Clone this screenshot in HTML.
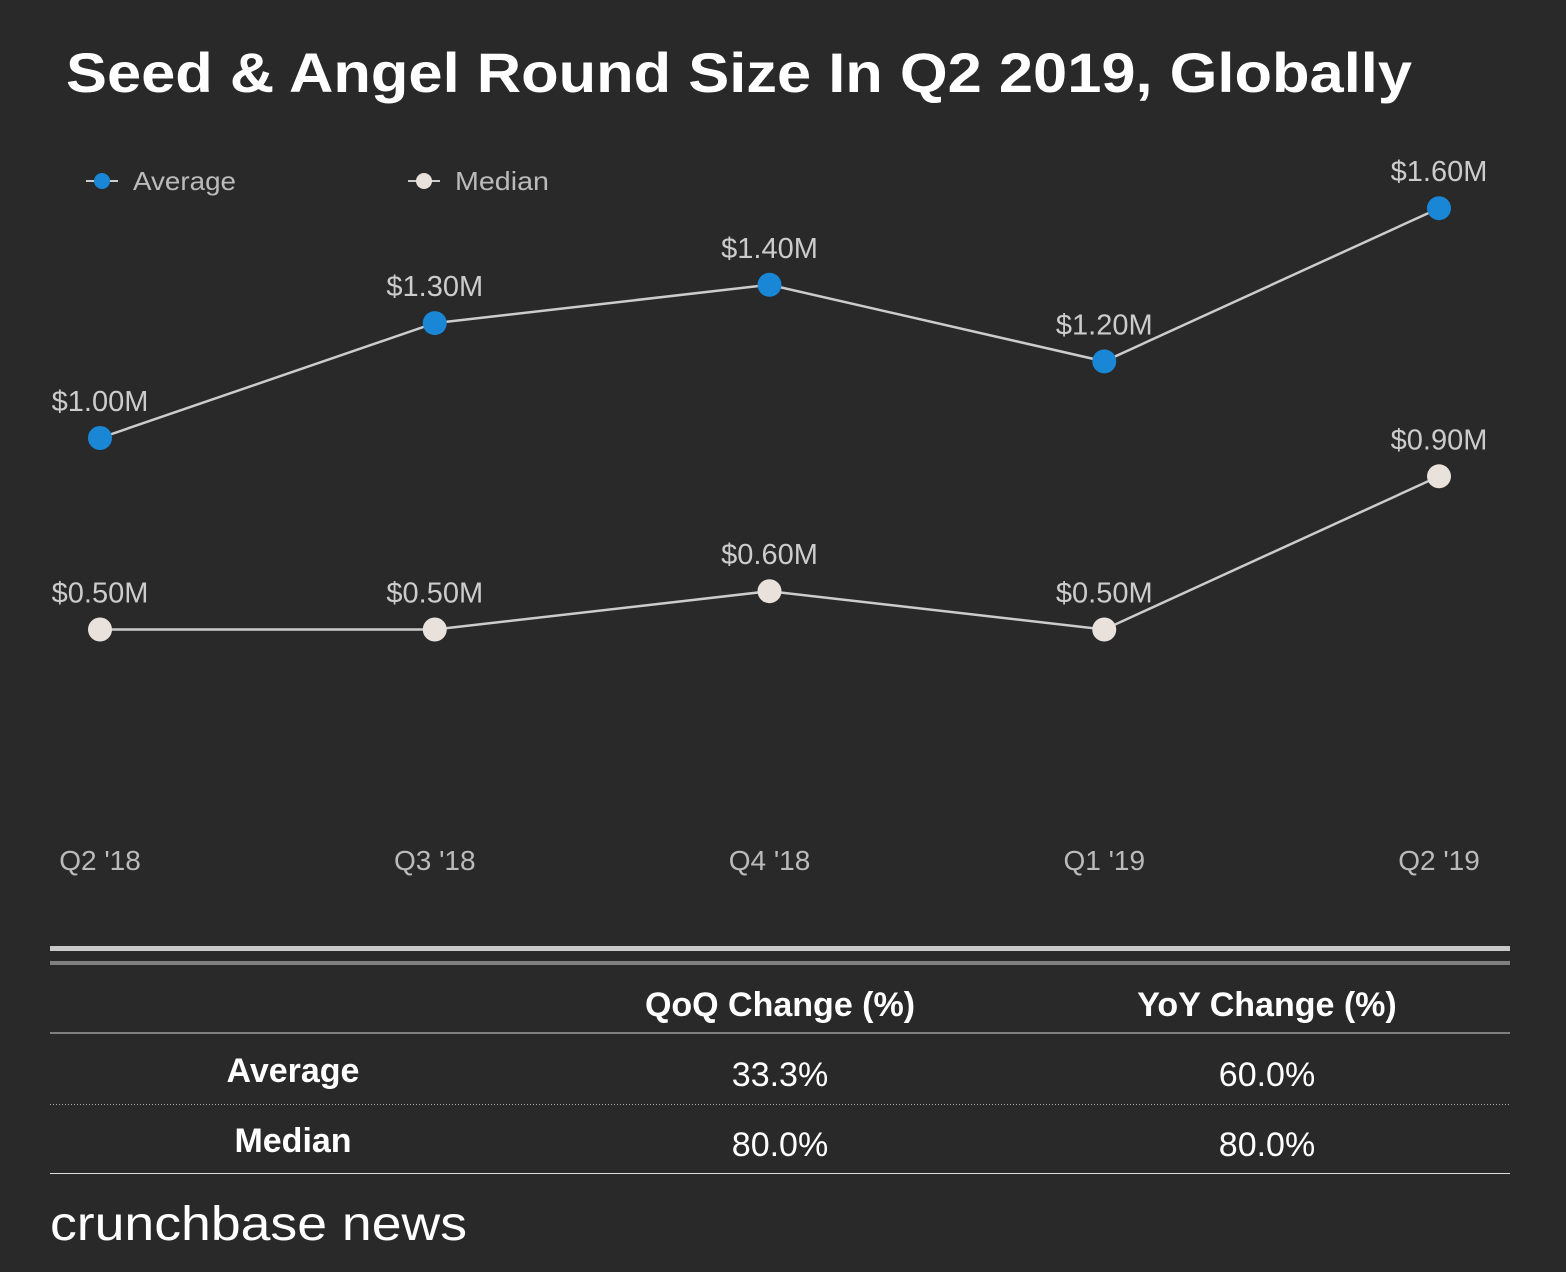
<!DOCTYPE html>
<html><head><meta charset="utf-8"><style>
body{margin:0;background:#292929;width:1566px;height:1272px;overflow:hidden;font-family:"Liberation Sans",sans-serif}
svg{display:block}
</style></head><body>
<svg width="1566" height="1272">
<text x="66" y="92" font-size="56" font-weight="bold" fill="#fff" textLength="1346" lengthAdjust="spacingAndGlyphs">Seed &amp; Angel Round Size In Q2 2019, Globally</text>
<g>
<line x1="86" y1="181" x2="118" y2="181" stroke="#ccc" stroke-width="2"/><circle cx="102" cy="181" r="8" fill="#1a87d6"/>
<text x="133" y="190" font-size="26" fill="#bbb" textLength="103" lengthAdjust="spacingAndGlyphs">Average</text>
<line x1="408" y1="181" x2="440" y2="181" stroke="#ccc" stroke-width="2"/><circle cx="424" cy="181" r="8" fill="#e9e1dc"/>
<text x="455" y="190" font-size="26" fill="#bbb" textLength="94" lengthAdjust="spacingAndGlyphs">Median</text>
</g>
<g id="plot"></g>
<g>
<rect x="50" y="946" width="1460" height="5" fill="#c8c8c8"/>
<rect x="50" y="961" width="1460" height="4" fill="#808080"/>
<text x="780" y="1016" font-size="34" font-weight="bold" fill="#fff" text-anchor="middle">QoQ Change (%)</text>
<text x="1267" y="1016" font-size="34" font-weight="bold" fill="#fff" text-anchor="middle">YoY Change (%)</text>
<rect x="50" y="1032" width="1460" height="2" fill="#808080"/>
<text x="293" y="1082" font-size="34" font-weight="bold" fill="#fff" text-anchor="middle">Average</text>
<text x="780" y="1086" font-size="34" fill="#fff" text-anchor="middle">33.3%</text>
<text x="1267" y="1086" font-size="34" fill="#fff" text-anchor="middle">60.0%</text>
<line x1="50" y1="1104.5" x2="1510" y2="1104.5" stroke="#aaa" stroke-width="1" stroke-dasharray="1,2"/>
<text x="293" y="1152" font-size="34" font-weight="bold" fill="#fff" text-anchor="middle">Median</text>
<text x="780" y="1156" font-size="34" fill="#fff" text-anchor="middle">80.0%</text>
<text x="1267" y="1156" font-size="34" fill="#fff" text-anchor="middle">80.0%</text>
<rect x="50" y="1173" width="1460" height="1" fill="#ddd"/>
</g>
<text x="50" y="1240" font-size="48" fill="#fff" textLength="417" lengthAdjust="spacingAndGlyphs">crunchbase news</text>
</svg>
<script>
const categories=["Q2 '18","Q3 '18","Q4 '18","Q1 '19","Q2 '19"];
const averageValues=[1.00,1.30,1.40,1.20,1.60];
const medianValues=[0.50,0.50,0.60,0.50,0.90];
const NS="http://www.w3.org/2000/svg";
const g=document.getElementById('plot');
const xS=i=>100+i*334.75;
const yS=v=>438-(v-1)*383;
function mk(t,a){const e=document.createElementNS(NS,t);for(const k in a)e.setAttribute(k,a[k]);g.appendChild(e);return e;}
categories.forEach((c,i)=>{
const t=mk('text',{x:xS(i),y:870,'font-size':28,fill:'#bbb','text-anchor':'middle'});t.textContent=c;


});
function series(vals,color,name){
const pl=mk('polyline',{points:vals.map((v,i)=>xS(i)+','+yS(v)).join(' '),fill:'none',stroke:'#ccc','stroke-width':2.5});


vals.forEach((v,i)=>{
const c=mk('circle',{cx:xS(i),cy:yS(v),r:12,fill:color});


const t=mk('text',{x:xS(i),y:yS(v)-27,'font-size':29,fill:'#ccc','text-anchor':'middle'});
t.textContent='$'+v.toFixed(2)+'M';


});
}
series(averageValues,'#1a87d6','average');
series(medianValues,'#e9e1dc','median');
</script>
</body></html>
